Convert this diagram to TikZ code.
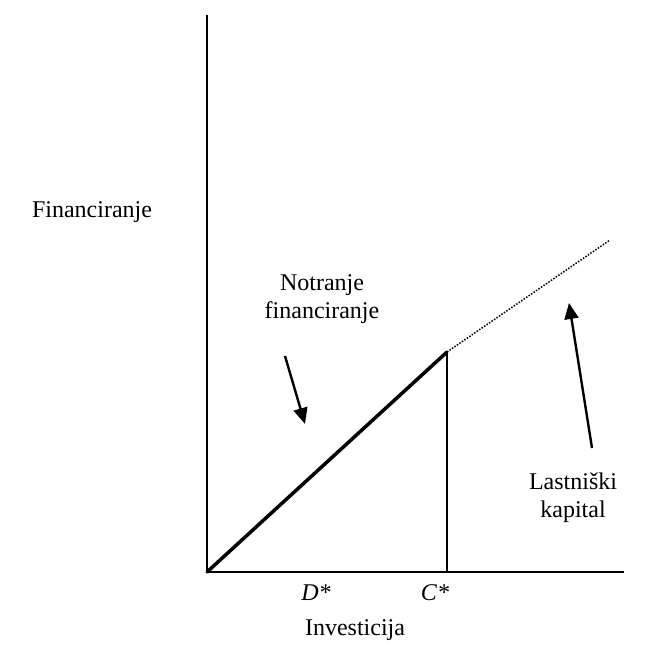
\documentclass[tikz,border=0pt]{standalone}
\usepackage{fontspec}
\setmainfont{Liberation Serif}
\usetikzlibrary{arrows.meta}

\begin{document}
\begin{tikzpicture}[x=1pt,y=-1pt]
	\tikzstyle{lbl}=[font=\fontsize{24}{28}\selectfont,align=center,inner sep=0pt]
	\tikzstyle{pointer}=[line width=2.4pt,-{Triangle[length=16pt,width=14pt]}]
	\useasboundingbox (0,0) rectangle (654,654);
	\coordinate (O) at (207,572);
	\coordinate (ytop) at (207,15);
	\coordinate (xend) at (624,572);
	\coordinate (C) at (447,352);
	\coordinate (Cb) at (447,572);
	\coordinate (dend) at (610,240);
	\coordinate (a1) at (285,356);
	\coordinate (a2) at (305,424);
	\coordinate (b1) at (592,448);
	\coordinate (b2) at (569,303);
	\node[lbl](fin) at (92,212) {Financiranje};
	\node[lbl](notr) at (322,299) {Notranje\\financiranje};
	\node[lbl](last) at (573,498) {Lastniški\\kapital};
	\node[lbl](dstar) at (316,593) {\itshape D*};
	\node[lbl](cstar) at (435,593) {\itshape C*};
	\node[lbl](inv) at (355,630) {Investicija};
	\draw[line width=2.2pt](ytop) -- (O) -- (xend);
	\draw[line width=3.5pt,line cap=round](O) -- (C);
	\draw[line width=1.8pt](C) -- (Cb);
	\draw[line width=1.5pt,dash pattern=on 1.5pt off 1.5pt](C) -- (dend);
	\draw[pointer](a1) -- (a2);
	\draw[pointer](b1) -- (b2);
\end{tikzpicture}
\end{document}
